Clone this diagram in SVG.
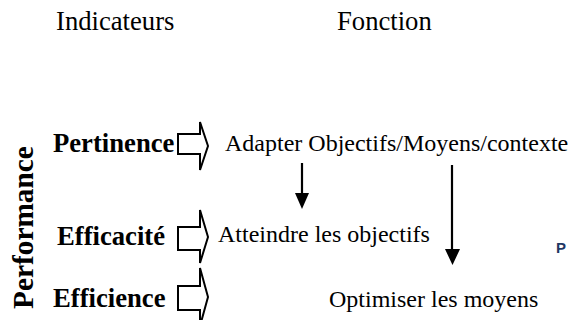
<svg xmlns="http://www.w3.org/2000/svg" width="568" height="320" viewBox="0 0 568 320">
<style>
.h{font-family:"Liberation Serif","Times New Roman",serif;font-size:26.67px;fill:#000}
.t{font-family:"Liberation Serif","Times New Roman",serif;font-size:24px;fill:#000}
.b{font-family:"Liberation Serif","Times New Roman",serif;font-size:26.67px;font-weight:bold;fill:#000}
.blk{fill:#fff;stroke:#000;stroke-width:2;stroke-linejoin:miter}
.ln{stroke:#000;stroke-width:2.2;fill:none}
.hd{fill:#000}
</style>
<rect width="568" height="320" fill="#fff"/>
<g id="header-indicateurs"><text class="h" x="56" y="30">Indicateurs</text></g>
<g id="header-fonction"><text class="h" x="337" y="30">Fonction</text></g>
<g id="performance"><text class="b" style="font-size:29.33px" transform="translate(33,309) rotate(-90)">Performance</text></g>
<g id="pertinence">
<text class="b" x="53" y="152">Pertinence</text>
<path class="blk" d="M178,134 H200 V122 L208,146 L200,170 V154 H178 Z"/>
</g>
<g id="efficacite">
<text class="b" x="57" y="245">Efficacité</text>
<path class="blk" d="M178,227 H200 V210 L208,237 L200,263 V250 H178 Z"/>
</g>
<g id="efficience">
<text class="b" x="53" y="307">Efficience</text>
<path class="blk" d="M178,286 H200 V268 L208,297 L200,326 V310 H178 Z"/>
</g>
<g id="adapter"><text class="t" x="225" y="151">Adapter Objectifs/Moyens/contexte</text></g>
<g id="atteindre"><text class="t" x="218" y="242">Atteindre les objectifs</text></g>
<g id="optimiser"><text class="t" x="329" y="307">Optimiser les moyens</text></g>
<g id="edge-glyph"><text x="556" y="253" style="font-family:'Liberation Sans',Arial,sans-serif;font-size:15px;font-weight:bold;fill:#1f3864">P</text></g>
<g id="connectors">
<line class="ln" x1="302" y1="163" x2="302" y2="194"/>
<path class="hd" d="M295,193 H309 L302,209 Z"/>
<line class="ln" x1="452" y1="165" x2="452" y2="250"/>
<path class="hd" d="M445,249 H460 L452.5,265 Z"/>
</g>
</svg>
